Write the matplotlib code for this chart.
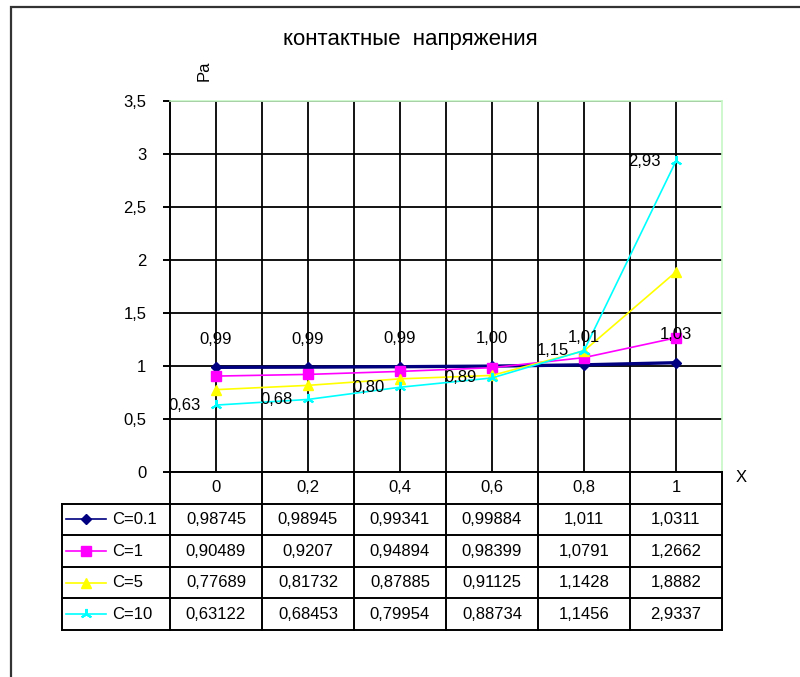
import matplotlib.pyplot as plt
from matplotlib.lines import Line2D
from matplotlib.patches import Rectangle

plt.rcParams['font.family'] = ['Liberation Sans', 'DejaVu Sans']

# data
x_vals = [0, 0.2, 0.4, 0.6, 0.8, 1]
series_names = ['C=0.1', 'C=1', 'C=5', 'C=10']
c01 = [0.98745, 0.98945, 0.99341, 0.99884, 1.011, 1.0311]
c1 = [0.90489, 0.9207, 0.94894, 0.98399, 1.0791, 1.2662]
c5 = [0.77689, 0.81732, 0.87885, 0.91125, 1.1428, 1.8882]
c10 = [0.63122, 0.68453, 0.79954, 0.88734, 1.1456, 2.9337]
y_ticks = [0, 0.5, 1, 1.5, 2, 2.5, 3, 3.5]

title = 'контактные  напряжения'
y_label = 'Pa'
x_label = 'X'

W, H = 800, 677


def fx(p):
    return p / W


def fy(p):
    return 1 - p / H


def comma(v):
    return str(v).replace('.', ',')


styles = [
    dict(color='#000080', marker='D', ms=5, lw=2.4, mec='#000080'),
    dict(color='#ff00ff', marker='s', ms=6.5, lw=1.2, mec='#ff00ff'),
    dict(color='#ffff00', marker='^', ms=7.5, lw=1.2, mec='#ffff00'),
    dict(color='#00ffff', marker=(3, 2, 0), ms=8, lw=1.2, mec='#00ffff', mew=1.5),
]
all_series = [c01, c1, c5, c10]

fig = plt.figure(figsize=(8, 6.77), dpi=100)

# outer frame
fig.patches.append(Rectangle((fx(11), -0.1), 1.2, fy(7) + 0.1, transform=fig.transFigure,
                             fill=False, edgecolor='#333333', lw=1.6))

ax_left, ax_right, ax_top, ax_bot = 170, 722, 101, 472
ax = fig.add_axes([fx(ax_left), fy(ax_bot), (ax_right - ax_left) / W, (ax_bot - ax_top) / H])
n = len(x_vals)
idx = list(range(n))
ax.set_xlim(-0.5, n - 0.5)
ax.set_ylim(0, 3.5)

for sp in ['top', 'right']:
    ax.spines[sp].set_color('#c6f7c6')
    ax.spines[sp].set_linewidth(1.2)
for sp in ['left', 'bottom']:
    ax.spines[sp].set_color('black')
    ax.spines[sp].set_linewidth(1.4)

ax.set_yticks(y_ticks)
ax.set_yticklabels([comma(f'{v:g}') for v in y_ticks], fontsize=12)
ax.tick_params(axis='y', direction='out', length=5, width=1.4, pad=12)
ax.set_xticks(idx)
ax.set_xticks([i + 0.5 for i in idx[:-1]], minor=True)
ax.tick_params(axis='x', which='both', length=0, labelbottom=False)
ax.grid(True, which='major', color='black', lw=1.3)
ax.grid(True, which='minor', axis='x', color='black', lw=1.3)
ax.set_axisbelow(True)

for vals, st in zip(all_series, styles):
    ax.plot(idx, vals, zorder=3, clip_on=False, **st)

# data labels
for i, v in enumerate(c01):
    ax.annotate(f'{v:.2f}'.replace('.', ','), (i, v), xytext=(0, 20), textcoords='offset points',
                ha='center', va='center', fontsize=12, zorder=4)
for i, v in enumerate(c10):
    ax.annotate(f'{v:.2f}'.replace('.', ','), (i, v), xytext=(-11, 0), textcoords='offset points',
                ha='right', va='center', fontsize=12, zorder=4)

fig.text(fx(410), fy(40), title, ha='center', va='center', fontsize=16)
fig.text(fx(204), fy(71), y_label, ha='center', va='center', rotation=90, fontsize=12)
fig.text(fx(741), fy(478), x_label, ha='center', va='center', fontsize=12)

# data table
tb_top, tb_bot = 472, 630
tax = fig.add_axes([fx(ax_left), fy(tb_bot), (ax_right - ax_left) / W, (tb_bot - tb_top) / H])
tax.set_xlim(-0.5, n - 0.5)
nrows = len(all_series) + 1
tax.set_ylim(nrows, 0)
tax.axis('off')
col_w = (ax_right - ax_left) / n
L = -0.5 - (ax_left - 62) / col_w
lk = dict(color='black', lw=1.4, clip_on=False)
for r in range(1, nrows + 1):
    tax.plot([L, n - 0.5], [r, r], **lk)
tax.plot([L, L], [1, nrows], **lk)
for k in range(n + 1):
    tax.plot([k - 0.5, k - 0.5], [0, nrows], **lk)

for i, xv in enumerate(x_vals):
    tax.text(i, 0.5, comma(f'{xv:g}'), ha='center', va='center', fontsize=12)
for r, (vals, name, st) in enumerate(zip(all_series, series_names, styles), start=1):
    for i, v in enumerate(vals):
        tax.text(i, r + 0.5, comma(v), ha='center', va='center', fontsize=12)
    sx0 = L + 4 / col_w
    sx1 = L + 44 / col_w
    tax.add_line(Line2D([sx0, sx1], [r + 0.5, r + 0.5], color=st['color'], lw=1.2, clip_on=False))
    tax.plot([(sx0 + sx1) / 2], [r + 0.5], marker=st['marker'], color=st['color'],
             mec=st['mec'], ms=st['ms'], mew=st.get('mew', 1), clip_on=False)
    tax.text(L + 50 / col_w, r + 0.5, name, ha='left', va='center', fontsize=12)

fig.savefig('out.png', dpi=100)
